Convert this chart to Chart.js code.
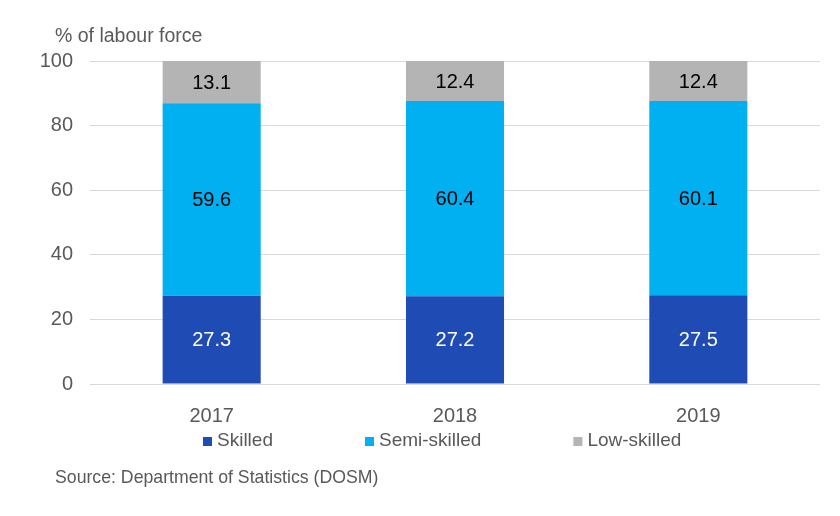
<!DOCTYPE html>
<html>
<head>
<meta charset="utf-8">
<script src="https://cdn.jsdelivr.net/npm/chart.js@4"></script>
<style>
  html, body { margin: 0; padding: 0; background: #fff; }
  #wrap { width: 840px; height: 516px; position: relative; }
</style>
</head>
<body>
<div id="wrap"><canvas id="chart"></canvas></div>
<script>
const years = ["2017", "2018", "2019"];
const skilled = [27.3, 27.2, 27.5];
const semiSkilled = [59.6, 60.4, 60.1];
const lowSkilled = [13.1, 12.4, 12.4];
const yTicks = [0, 20, 40, 60, 80, 100];

const FONT = "'Liberation Sans', Arial, sans-serif";
const GREY = "#595959";

// values in the middle of each bar segment
const barLabels = {
  id: "barLabels",
  afterDatasetsDraw(chart) {
    const ctx = chart.ctx;
    ctx.save();
    ctx.font = "20px " + FONT;
    ctx.textAlign = "center";
    ctx.textBaseline = "middle";
    chart.data.datasets.forEach((ds, i) => {
      chart.getDatasetMeta(i).data.forEach((bar, j) => {
        const mid = (bar.y + bar.base) / 2;
        ctx.fillStyle = ds.labelColor;
        ctx.fillText(ds.data[j].toFixed(1), bar.x, mid + 1);
      });
    });
    ctx.restore();
  },
};

// axis title, legend row and source note
const notes = {
  id: "notes",
  afterDraw(chart) {
    const ctx = chart.ctx;
    ctx.save();
    ctx.textAlign = "left";
    ctx.textBaseline = "middle";

    ctx.fillStyle = GREY;
    ctx.font = "19.5px " + FONT;
    ctx.fillText("% of labour force", 55, 37);

    // legend, laid out like the office chart legend
    let x = 203;
    ctx.font = "19px " + FONT;
    chart.data.datasets.forEach((ds) => {
      ctx.fillStyle = ds.backgroundColor;
      ctx.fillRect(x, 437, 9, 9);
      ctx.fillStyle = GREY;
      ctx.fillText(ds.label, x + 14, 441);
      x += 14 + ctx.measureText(ds.label).width + 92;
    });

    ctx.fillStyle = GREY;
    ctx.font = "17.7px " + FONT;
    ctx.fillText("Source: Department of Statistics (DOSM)", 55, 478);
    ctx.restore();
  },
};

new Chart(document.getElementById("chart"), {
  type: "bar",
  data: {
    labels: years,
    datasets: [
      { label: "Skilled", data: skilled, backgroundColor: "#1F4BB5", labelColor: "#ffffff" },
      { label: "Semi-skilled", data: semiSkilled, backgroundColor: "#00B0F0", labelColor: "#000000" },
      { label: "Low-skilled", data: lowSkilled, backgroundColor: "#B4B4B4", labelColor: "#000000" },
    ],
  },
  options: {
    responsive: true,
    maintainAspectRatio: false,
    animation: false,
    devicePixelRatio: 1,
    datasets: {
      bar: { categoryPercentage: 1, barPercentage: 0.403, borderWidth: 0 },
    },
    layout: { padding: { top: 61, right: 20, bottom: 92, left: 0 } },
    scales: {
      x: {
        stacked: true,
        grid: { display: false },
        border: { display: false },
        ticks: { color: GREY, font: { family: FONT, size: 20 }, padding: 12 },
        afterFit(scale) { scale.height = 40; },
      },
      y: {
        stacked: true,
        min: 0,
        max: 100,
        afterBuildTicks(scale) { scale.ticks = yTicks.map((v) => ({ value: v })); },
        grid: { color: "#D9D9D9", lineWidth: 1, drawTicks: false },
        border: { display: false },
        ticks: { color: GREY, font: { family: FONT, size: 20 }, padding: 17 },
        afterFit(scale) { scale.width = 90; },
      },
    },
    plugins: {
      legend: { display: false },
      tooltip: { enabled: false },
    },
  },
  plugins: [barLabels, notes],
});
</script>
</body>
</html>
